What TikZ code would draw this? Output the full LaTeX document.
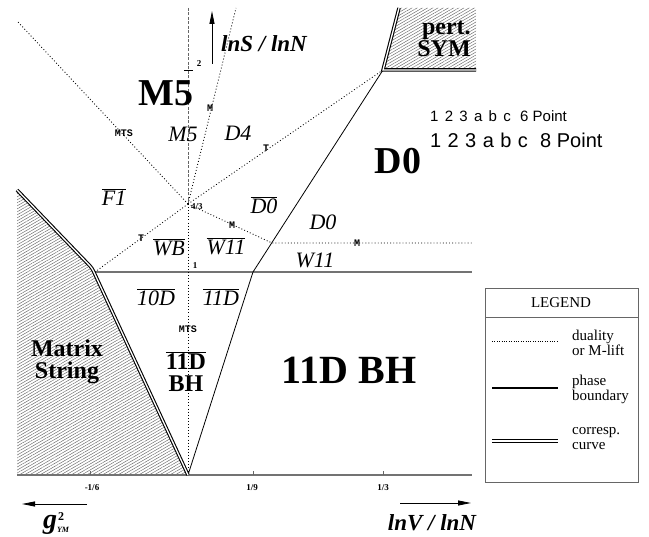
\documentclass[tikz,border=0pt]{standalone}
\usepackage{fontspec}
\setmainfont{Liberation Serif}
\newfontfamily\sansf{Liberation Sans}
\newfontfamily\monof{Liberation Mono}
\usetikzlibrary{patterns.meta,arrows.meta}
\newcommand\gapq{\hspace{0.42em}}
\newcommand\ovl[1]{\ensuremath{\overline{\mbox{#1}}}}
\begin{document}
\begin{tikzpicture}[x=1pt,y=-1pt,
  dotline/.style={line width=0.85pt,dash pattern=on 0.9pt off 2.2pt},
  phase/.style={line width=0.8pt},
  gline/.style={draw=black!55,line width=1.6pt},
  corresp/.style={line width=1.1pt,double=white,double distance=1.3pt},
  hatch/.style={pattern={Lines[angle=30,distance=2.6pt,line width=0.45pt]},pattern color=black!60},
  reg/.style={font=\fontsize{22}{22}\selectfont\itshape,inner sep=0pt},
  big/.style={font=\fontsize{38}{38}\selectfont\bfseries,inner sep=0pt},
  mid/.style={font=\fontsize{24}{22}\selectfont\bfseries,inner sep=0pt,align=center},
  tinyl/.style={font=\fontsize{10}{10}\selectfont\bfseries\monof,inner sep=0pt},
  num/.style={font=\fontsize{9}{9}\selectfont\bfseries,inner sep=0pt},
  axlab/.style={font=\fontsize{23}{23}\selectfont\bfseries\itshape,inner sep=0pt},
  leg/.style={font=\fontsize{15}{15}\selectfont,inner sep=0pt,align=left,anchor=west},
  ]
\useasboundingbox (0,0) rectangle (649,537);
\fill[white] (0,0) rectangle (649,537);
% key points
\coordinate (O) at (188,475);
\coordinate (P) at (188,204);
\coordinate (Vt) at (188,8);
\coordinate (MSt) at (17,190);
\coordinate (MSc) at (92,268);
\coordinate (MSb) at (17,475);
\coordinate (H0) at (95,272);
\coordinate (H1) at (472,272);
\coordinate (B) at (253,272);
\coordinate (C) at (383,70);
\coordinate (PSa) at (399,8);
\coordinate (PSb) at (476,8);
\coordinate (PSc) at (476,70);
\coordinate (Q) at (272,243);
\coordinate (Qe) at (472,243);
\coordinate (UL) at (18,22);
\coordinate (UR) at (236,8);
\coordinate (A0) at (17,475);
\coordinate (A1) at (472,475);
% hatched regions
\fill[hatch] (MSt) -- (MSc) -- (O) -- (MSb) -- cycle;
\fill[hatch] (PSa) -- (PSb) -- (PSc) -- (C) -- cycle;
% axes and lines
\draw[gline] (A0) -- (A1);
\draw[gline] (H0) -- (H1);
\draw[black!60,line width=0.8pt,dash pattern=on 3pt off 1.5pt] (Vt) -- (P);
\draw[dotline] (P) -- (O);
\draw[dotline] (P) -- (UL);
\draw[dotline] (P) -- (UR);
\draw[dotline] (P) -- (C);
\draw[dotline] (P) -- (Q) -- (Qe);
\draw[dotline] (P) -- (H0);
\draw[phase] (O) -- (B) -- (C);
\draw[corresp,rounded corners=3pt] (MSt) -- (MSc) -- (O);
\draw[corresp] (PSa) -- (C) -- (PSc);
% ticks
\draw[black!60,line width=0.6pt] (90,475) -- (90,471);
\draw[black!60,line width=0.6pt] (253,475) -- (253,471);
\draw[black!60,line width=0.6pt] (383,475) -- (383,471);
\draw[line width=0.8pt] (184,70) -- (193,70);
\node[num,anchor=west] (l43) at (191,207) {4/3};
\node[num] (l1) at (195,266) {1};
\node[num] (l2) at (199,64) {2};
\node[num] (lm16) at (92,488) {-1/6};
\node[num] (l19) at (252,488) {1/9};
\node[num] (l13) at (383,488) {1/3};
% axis arrows
\coordinate (sA) at (212,64);
\coordinate (sB) at (212,11);
\draw[-{Triangle[length=13pt,width=5pt]},line width=0.8pt] (sA) -- (sB);
\node[axlab,anchor=west] (lnS) at (221,44) {lnS / lnN};
\coordinate (gA) at (87,504);
\coordinate (gB) at (22,504);
\draw[-{Triangle[length=13pt,width=5pt]},line width=0.8pt] (gA) -- (gB);
\node[font=\fontsize{28}{28}\selectfont\bfseries\itshape,inner sep=0pt,anchor=base] (g) at (50,529) {g};
\node[font=\fontsize{12}{12}\selectfont\bfseries,inner sep=0pt] (g2) at (61,517) {2};
\node[font=\fontsize{8}{8}\selectfont\bfseries\itshape,inner sep=0pt] (gym) at (63,530) {YM};
\coordinate (vA) at (400,503);
\coordinate (vB) at (471,503);
\draw[-{Triangle[length=13pt,width=5pt]},line width=0.8pt] (vA) -- (vB);
\node[axlab,anchor=base] (lnV) at (432,531) {lnV / lnN};
% region labels
\node[big] (bM5) at (166,93) {M5};
\node[big] (bD0) at (398,161) {D0};
\node[font=\fontsize{40}{40}\selectfont\bfseries,inner sep=0pt] (bBH) at (349,370) {11D BH};
\node[mid] (ms) at (67,362) {Matrix\\String};
\node[mid,align=right] (ps) at (444,39) {pert.\\SYM};
\node[mid] (bh) at (186,372) {\ovl{11D}\\BH};
\node[reg] (iM5) at (183,134) {M5};
\node[reg] (iD4) at (238,133) {D4};
\node[reg] (iF1) at (114,197) {\ovl{F1}};
\node[reg] (iD0b) at (264,205) {\ovl{D0}};
\node[reg] (iD0) at (323,222) {D0};
\node[reg] (iWB) at (169,247) {\ovl{WB}};
\node[reg] (iW11b) at (226,246) {\ovl{W11}};
\node[reg] (iW11) at (315,260) {W11};
\node[reg] (i10D) at (156,297) {\ovl{10D}};
\node[reg] (i11D) at (221,297) {\ovl{11D}};
% small markers
\node[tinyl] (mts1) at (124,133) {MTS};
\node[tinyl] (mts2) at (188,329) {MTS};
\node[tinyl] (m1) at (210,108) {M};
\node[tinyl] (m2) at (232,225) {M};
\node[tinyl] (m3) at (357,243) {M};
\node[tinyl] (t1) at (266,148) {T};
\node[tinyl] (t2) at (141,238) {T};
% font sample text
\node[font=\sansf\fontsize{15}{15}\selectfont,anchor=base west,inner sep=0pt] (s6a) at (430,122) {1\gapq 2\gapq 3\gapq a\gapq b\gapq c};
\node[font=\sansf\fontsize{15}{15}\selectfont,anchor=base west,inner sep=0pt] (s6b) at (520,122) {6 Point};
\node[font=\sansf\fontsize{20}{20}\selectfont,anchor=base west,inner sep=0pt] (s8a) at (430,148) {1\hspace{0.32em}2\hspace{0.32em}3\hspace{0.32em}a\hspace{0.32em}b\hspace{0.32em}c};
\node[font=\sansf\fontsize{20}{20}\selectfont,anchor=base west,inner sep=0pt] (s8b) at (540,148) {8 Point};
% legend
\draw[black!60,line width=0.8pt] (485,288) rectangle (638,482);
\draw[black!60,line width=0.8pt] (485,317) -- (638,317);
\node[font=\fontsize{15}{15}\selectfont,inner sep=0pt] (legt) at (561,303) {LEGEND};
\coordinate (d0) at (492,341); \coordinate (d1) at (558,341);
\draw[line width=0.5pt,dash pattern=on 0.6pt off 1.8pt] (d0) -- (d1);
\node[leg] (lg1) at (572,343) {duality\\or M-lift};
\coordinate (p0) at (492,388); \coordinate (p1) at (558,388);
\draw[line width=1.4pt] (p0) -- (p1);
\node[leg] (lg2) at (572,389) {phase\\boundary};
\coordinate (c0) at (492,441); \coordinate (c1) at (558,441);
\draw[line width=1pt,double=white,double distance=1.2pt] (c0) -- (c1);
\node[leg] (lg3) at (572,439) {corresp.\\curve};
\end{tikzpicture}
\end{document}
